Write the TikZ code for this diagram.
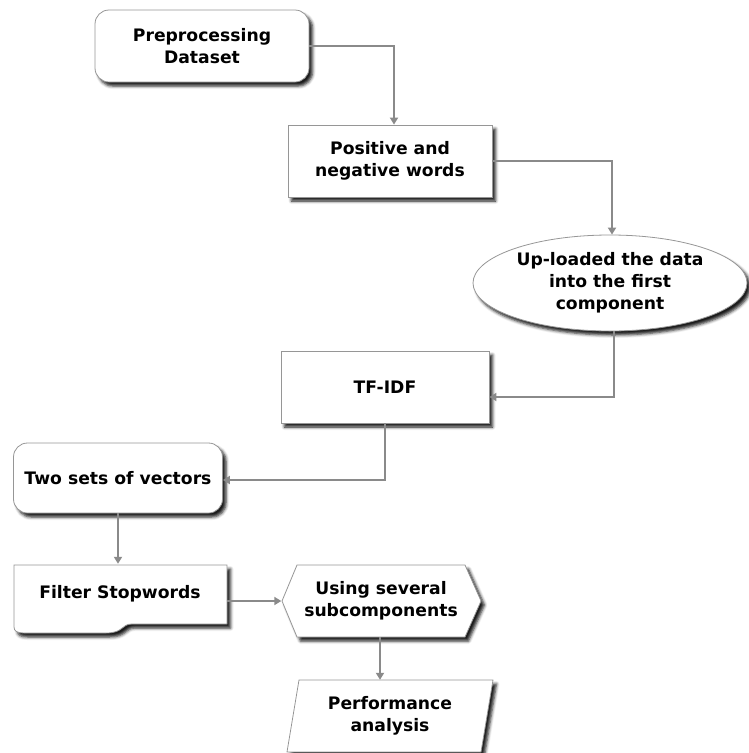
\documentclass[tikz,border=0pt]{standalone}
\usepackage{fontspec}
\setmainfont{DejaVu Sans}
\usetikzlibrary{arrows.meta,shapes.geometric,shadows.blur}
\definecolor{linegray}{RGB}{138,138,138}
\definecolor{edgegray}{RGB}{150,150,150}
\begin{document}
\begin{tikzpicture}[x=1pt,y=-1pt,
  label font/.style={font=\bfseries\fontsize{17.2}{22}\selectfont, align=center},
  shad/.style={blur shadow={shadow xshift=3.5pt,shadow yshift=-4pt,shadow blur radius=3pt,shadow opacity=90}},
  boxbase/.style={label font, draw=edgegray, line width=0.8pt, fill=white, shad, inner sep=0pt},
  roundbox/.style={boxbase, rectangle, rounded corners=14pt},
  plainbox/.style={boxbase, rectangle},
  ovalbox/.style={boxbase, ellipse},
  shapeoutline/.style={draw=edgegray, line width=0.8pt, fill=white, shad},
  textonly/.style={label font, inner sep=0pt},
  flow/.style={draw=linegray, line width=1.8pt, -{Triangle[width=8pt,length=7pt]}}
]
\useasboundingbox (0,0) rectangle (748,753);

% boxes with ordinary shapes
\node[roundbox, minimum width=214pt, minimum height=72pt] (pre) at (202,46) {Preprocessing\\Dataset};
\node[plainbox, minimum width=204pt, minimum height=72pt] (pos) at (390,161) {Positive and\\negative words};
\node[ovalbox, minimum width=274pt, minimum height=96pt] (up) at (610,283) {Up-loaded the data\\into the first\\component};
\node[plainbox, minimum width=208pt, minimum height=72pt] (tf) at (385,387) {TF-IDF};
\node[roundbox, minimum width=209pt, minimum height=70pt] (two) at (118,478) {Two sets of vectors};

% document shape with a wavy bottom
\path[shapeoutline] (14,565) -- (227,565) -- (227,624) -- (132,624)
  .. controls (121,624) and (124,633) .. (106,633) -- (24,633)
  .. controls (17,633) and (14,631) .. (14,627) -- cycle;
\node[textonly, minimum width=213pt, minimum height=60pt] (filt) at (120,594) {Filter Stopwords};

% display shape with pointed sides
\path[shapeoutline] (282,601) -- (297,565) -- (465,565) -- (481,601) -- (465,637) -- (297,637) -- cycle;
\node[textonly, minimum width=199pt, minimum height=72pt] (using) at (381,601) {Using several\\subcomponents};

% data (parallelogram) shape
\path[shapeoutline] (299,680) -- (493,680) -- (481,752) -- (287,752) -- cycle;
\node[textonly, minimum width=194pt, minimum height=72pt] (perf) at (390,716) {Performance\\analysis};

% connectors
\draw[flow] (pre.east) -| ([xshift=4pt]pos.north);
\draw[flow] (pos.east) -| ([xshift=2pt]up.north);
\draw[flow] ([xshift=4pt]up.south) |- ([yshift=-10pt]tf.east);
\draw[flow] (tf.south) |- ([yshift=-2pt]two.east);
\draw[flow] (two.south) -- (two.south |- filt.north);
\draw[flow] (filt.east |- using.west) -- (using.west);
\draw[flow] ([xshift=-1pt]using.south) -- ([xshift=-1pt]using.south |- perf.north);
\end{tikzpicture}
\end{document}
